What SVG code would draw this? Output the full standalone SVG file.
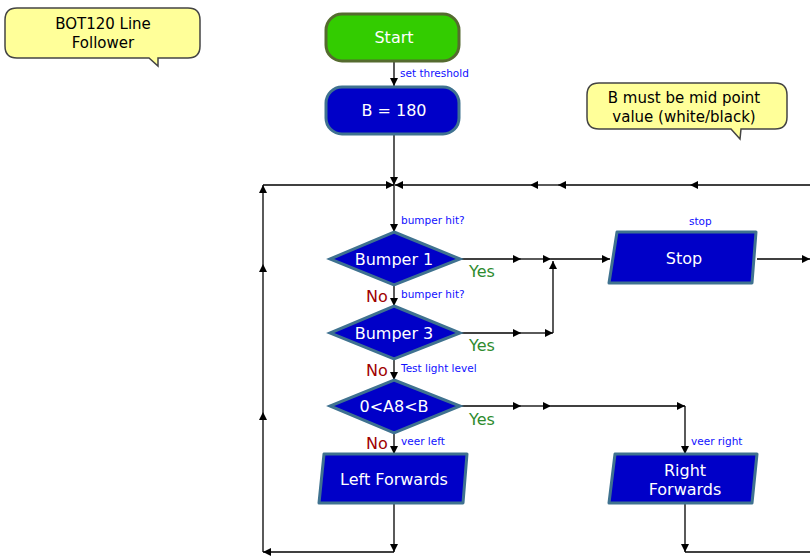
<svg xmlns="http://www.w3.org/2000/svg" width="810" height="556" viewBox="0 0 810 556">
<defs>
<marker id="ah" markerUnits="userSpaceOnUse" markerWidth="9" markerHeight="8" refX="8" refY="4" orient="auto">
<path d="M0,0 L8,4 L0,8 Z" fill="#000"/>
</marker>
<style>
.bub{fill:#ffff99;stroke:#444;stroke-width:1.5}
.bt{font-family:"DejaVu Sans",Verdana,sans-serif;font-size:15px;fill:#000;text-anchor:middle}
.blue{fill:#0000c8;stroke:#3f7290;stroke-width:3}
.nt{font-family:"DejaVu Sans",Verdana,sans-serif;font-size:16px;fill:#fff;text-anchor:middle}
.sl{font-family:"DejaVu Sans",Verdana,sans-serif;font-size:10.5px;fill:#1010ff}
.yes{font-family:"DejaVu Sans",Verdana,sans-serif;font-size:16px;fill:#2e8b2e}
.no{font-family:"DejaVu Sans",Verdana,sans-serif;font-size:16px;fill:#a00000}
.c{fill:none;stroke:#000;stroke-width:1.3;marker-end:url(#ah)}
.cn{fill:none;stroke:#000;stroke-width:1.3}
</style>
</defs>
<rect width="810" height="556" fill="#fff"/>

<g id="comment1">
<path class="bub" d="M17,8 H188 Q200,8 200,20 V46 Q200,58 188,58 H158 L158,66 L149,58 H17 Q5,58 5,46 V20 Q5,8 17,8 Z"/>
<text class="bt" x="103" y="29">BOT120 Line</text>
<text class="bt" x="103" y="48">Follower</text>
</g>

<g id="comment2">
<path class="bub" d="M599,83 H775 Q787,83 787,95 V117 Q787,129 775,129 H741 L740,139 L731,129 H599 Q587,129 587,117 V95 Q587,83 599,83 Z"/>
<text class="bt" x="684" y="103">B must be mid point</text>
<text class="bt" x="684" y="122">value (white/black)</text>
</g>

<g id="connectors">
<path class="c" d="M394,61 V86"/>
<path class="c" d="M394,134 V185"/>
<path class="c" d="M394,185 V232"/>
<path class="c" d="M394,285 V306"/>
<path class="c" d="M394,359 V380"/>
<path class="c" d="M394,433 V454"/>
<path class="c" d="M460,259 H521"/>
<path class="c" d="M521,259 H551"/>
<path class="c" d="M551,259 H610"/>
<path class="c" d="M460,333 H521"/>
<path class="c" d="M521,333 H553"/>
<path class="c" d="M553,333 V261"/>
<path class="c" d="M460,406 H521"/>
<path class="c" d="M521,406 H551"/>
<path class="c" d="M551,406 H685"/>
<path class="c" d="M685,406 V454"/>
<path class="c" d="M394,504 V552"/>
<path class="c" d="M394,552 H263"/>
<path class="c" d="M263,552 V412"/>
<path class="c" d="M263,412 V264"/>
<path class="c" d="M263,264 V185"/>
<path class="c" d="M263,185 H394"/>
<path class="c" d="M685,504 V552"/>
<path class="cn" d="M685,552 H810"/>
<path class="c" d="M757,259 H810"/>
<path class="c" d="M810,185 H690"/>
<path class="c" d="M690,185 H558"/>
<path class="c" d="M558,185 H530"/>
<path class="c" d="M530,185 H395"/>
<text class="sl" x="400" y="77">set threshold</text>
<text class="sl" x="401" y="224">bumper hit?</text>
<text class="sl" x="401" y="298">bumper hit?</text>
<text class="sl" x="401" y="372">Test light level</text>
<text class="sl" x="401" y="445">veer left</text>
<text class="sl" x="691" y="445">veer right</text>
<text class="sl" x="689" y="225">stop</text>
<text class="yes" x="469" y="277">Yes</text>
<text class="yes" x="469" y="351">Yes</text>
<text class="yes" x="469" y="425">Yes</text>
<text class="no" x="366" y="302">No</text>
<text class="no" x="366" y="376">No</text>
<text class="no" x="366" y="449">No</text>
</g>

<g id="start">
<rect x="326" y="14" width="133" height="47" rx="16" fill="#33cc00" stroke="#556b2f" stroke-width="3"/>
<text class="nt" x="394" y="43">Start</text>
</g>

<g id="setB">
<rect x="326" y="87" width="133" height="47" rx="16" class="blue"/>
<text class="nt" x="394" y="116">B = 180</text>
</g>

<g id="bumper1">
<polygon class="blue" points="394,232 460,259 394,285 330,259"/>
<text class="nt" x="394" y="265">Bumper 1</text>
</g>

<g id="bumper3">
<polygon class="blue" points="394,306 460,333 394,359 330,333"/>
<text class="nt" x="394" y="339">Bumper 3</text>
</g>

<g id="test">
<polygon class="blue" points="394,380 460,406 394,433 330,406"/>
<text class="nt" x="394" y="412">0&lt;A8&lt;B</text>
</g>

<g id="stop">
<path class="blue" d="M617,232 H756 L752,283 H609 Z" stroke-linejoin="round"/>
<text class="nt" x="684" y="264">Stop</text>
</g>

<g id="leftfwd">
<path class="blue" d="M324,454 H467 L463,503 H319 Z" stroke-linejoin="round"/>
<text class="nt" x="394" y="485">Left Forwards</text>
</g>

<g id="rightfwd">
<path class="blue" d="M615,454 H757 L752,503 H609 Z" stroke-linejoin="round"/>
<text class="nt" x="685" y="476">Right</text>
<text class="nt" x="685" y="495">Forwards</text>
</g>
</svg>
